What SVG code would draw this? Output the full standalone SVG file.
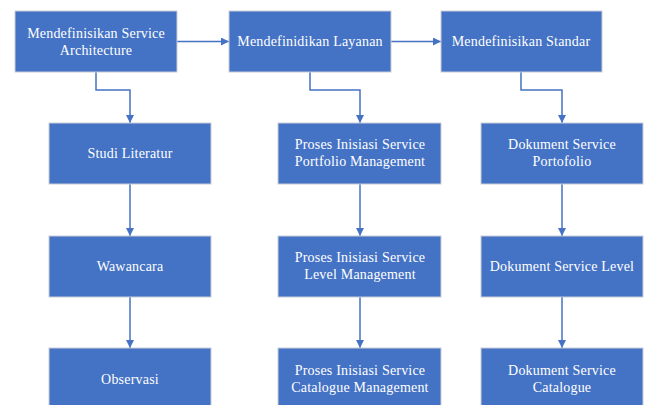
<svg xmlns="http://www.w3.org/2000/svg" width="650" height="405" viewBox="0 0 650 405">
<defs>
<marker id="ah" viewBox="0 0 10 10" refX="10" refY="5" markerWidth="8" markerHeight="8" markerUnits="userSpaceOnUse" orient="auto">
<path d="M0,0 L10,5 L0,10 z" fill="#4472C4"/>
</marker>
<style>
.box{fill:#4472C4;stroke:#C9CED8;stroke-width:1}
.t{font-family:"Liberation Serif","Times New Roman",serif;font-size:14px;letter-spacing:0.2px;fill:#FFFFFF;text-anchor:middle}
.c{fill:none;stroke:#4472C4;stroke-width:1.5;marker-end:url(#ah)}
</style>
</defs>
<rect width="650" height="405" fill="#FFFFFF"/>
<g id="connectors">
<path class="c" d="M177,41.5 H229"/>
<path class="c" d="M391,41.5 H441"/>
<path class="c" d="M96,72 V90 H130 V123"/>
<path class="c" d="M310,72 V90 H360 V123"/>
<path class="c" d="M521,72 V90 H562 V123"/>
<path class="c" d="M130,184 V236"/>
<path class="c" d="M130,297 V348"/>
<path class="c" d="M360,184 V236"/>
<path class="c" d="M360,297 V348"/>
<path class="c" d="M562,184 V236"/>
<path class="c" d="M562,297 V348"/>
</g>
<g id="n1"><rect class="box" x="15" y="11" width="162" height="61"/><text class="t" x="96" y="38">Mendefinisikan Service</text><text class="t" x="96" y="55">Architecture</text></g>
<g id="n2"><rect class="box" x="229" y="11" width="162" height="61"/><text class="t" x="310" y="46">Mendefinidikan Layanan</text></g>
<g id="n3"><rect class="box" x="441" y="11" width="161" height="61"/><text class="t" x="521" y="46">Mendefinisikan Standar</text></g>
<g id="n4"><rect class="box" x="49" y="123" width="162" height="61"/><text class="t" x="130" y="158">Studi Literatur</text></g>
<g id="n5"><rect class="box" x="278" y="123" width="163" height="61"/><text class="t" x="360" y="149">Proses Inisiasi Service</text><text class="t" x="360" y="166">Portfolio Management</text></g>
<g id="n6"><rect class="box" x="481" y="123" width="162" height="61"/><text class="t" x="562" y="149">Dokument Service</text><text class="t" x="562" y="166">Portofolio</text></g>
<g id="n7"><rect class="box" x="49" y="236" width="162" height="61"/><text class="t" x="130" y="271">Wawancara</text></g>
<g id="n8"><rect class="box" x="278" y="236" width="163" height="61"/><text class="t" x="360" y="262">Proses Inisiasi Service</text><text class="t" x="360" y="279">Level Management</text></g>
<g id="n9"><rect class="box" x="481" y="236" width="162" height="61"/><text class="t" x="562" y="271">Dokument Service Level</text></g>
<g id="n10"><rect class="box" x="49" y="348" width="162" height="62"/><text class="t" x="130" y="384">Observasi</text></g>
<g id="n11"><rect class="box" x="278" y="348" width="163" height="62"/><text class="t" x="360" y="375">Proses Inisiasi Service</text><text class="t" x="360" y="392">Catalogue Management</text></g>
<g id="n12"><rect class="box" x="481" y="348" width="162" height="62"/><text class="t" x="562" y="375">Dokument Service</text><text class="t" x="562" y="392">Catalogue</text></g>
</svg>
